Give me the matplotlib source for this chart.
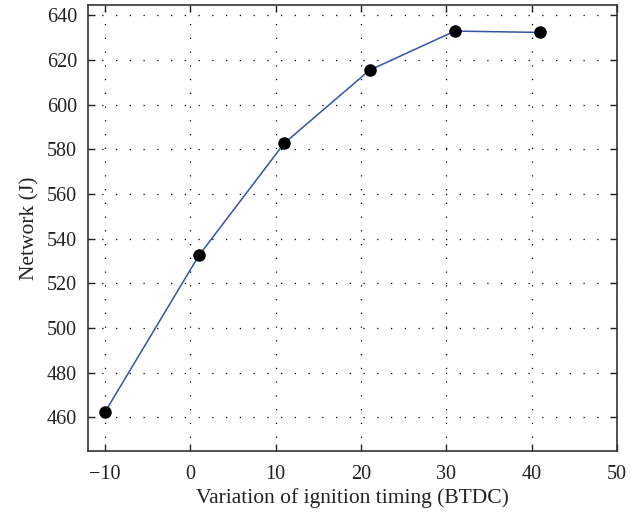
import matplotlib
matplotlib.use("Agg")
import matplotlib.pyplot as plt

# ignition timing (BTDC) vs network
timing = [-10, 1, 11, 21, 31, 41]
network = [462.5, 532.5, 582.7, 615.4, 632.9, 632.3]

plt.rcParams['font.family'] = ['Liberation Serif', 'DejaVu Serif']

fig = plt.figure(figsize=(6.38, 5.16), dpi=100)
ax = fig.add_axes([0.138, 0.126, 0.829, 0.864])

ax.plot(timing, network, color='#3453a8', lw=1.1, marker='o',
        markersize=8, markerfacecolor='black', markeredgecolor='black', zorder=3)

ax.set_xlim(-12, 50)
ax.set_ylim(445, 644.5)
ax.set_xticks([-10, 0, 10, 20, 30, 40, 50])
ax.set_yticks(range(460, 641, 20))
ax.set_xticklabels(['\u221210', '0', '10', '20', '30', '40', '50'])

ax.grid(True, color='black', linestyle=(0, (1, 10)), linewidth=0.9)
ax.tick_params(direction='in', top=True, right=True, length=5, width=1,
               labelsize=14.5, colors='#222222')
ax.tick_params(axis='x', pad=10)
ax.tick_params(axis='y', pad=8)
for s in ax.spines.values():
    s.set_color('#333333')
    s.set_linewidth(1.2)

ax.set_xlabel('Variation of ignition timing (BTDC)', fontsize=15.5, color='#222222', labelpad=3)
ax.set_ylabel('Network (J)', fontsize=15.5, color='#222222', labelpad=5)

fig.savefig('out.png', dpi=100)
